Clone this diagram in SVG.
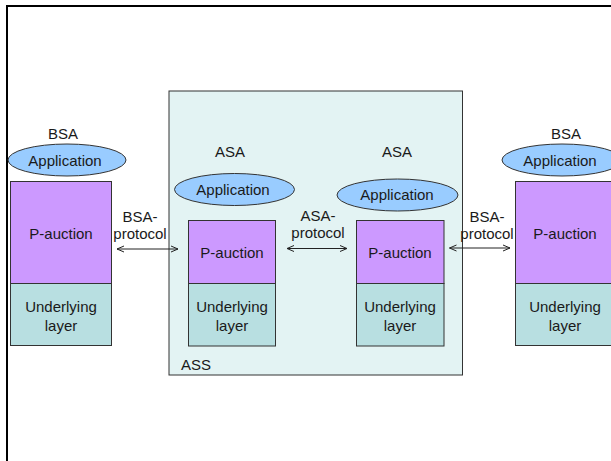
<svg xmlns="http://www.w3.org/2000/svg" width="611" height="461" viewBox="0 0 611 461">
  <defs>
    <marker id="chev" viewBox="0 0 8 8" refX="7.5" refY="4" markerWidth="8" markerHeight="8" markerUnits="userSpaceOnUse" orient="auto-start-reverse">
      <path d="M0.5,1 L7.5,4 L0.5,7" fill="none" stroke="#222" stroke-width="1"/>
    </marker>
  </defs>
  <style>
    text { font-family: "Liberation Sans", Arial, sans-serif; font-size: 15px; fill: #1a1a1a; text-anchor: middle; }
    .lbl { text-anchor: middle; }
    .app { fill: #99CCFF; stroke: #333; stroke-width: 1; }
    .pa { fill: #CC99FF; stroke: #333; stroke-width: 1; }
    .ul { fill: #B8DFE1; stroke: #333; stroke-width: 1; }
    .link { stroke: #222; stroke-width: 1; fill: none; marker-start: url(#chev); marker-end: url(#chev); }
  </style>

  <rect x="0" y="0" width="611" height="461" fill="#ffffff"/>
  <!-- page frame -->
  <rect x="7" y="6" width="700" height="600" fill="none" stroke="#000" stroke-width="2"/>

  <!-- ASS system box -->
  <g id="ass">
    <rect x="169" y="91" width="293.5" height="284" fill="#E3F3F3" stroke="#333" stroke-width="1"/>
    <text x="196" y="370" style="text-anchor:middle">ASS</text>
  </g>

  <!-- left BSA -->
  <g id="bsa-left">
    <text x="63" y="139">BSA</text>
    <ellipse class="app" cx="67" cy="160" rx="59" ry="16"/>
    <text x="65" y="166">Application</text>
    <rect class="pa" x="10.5" y="181.5" width="101" height="102"/>
    <text x="61" y="239">P-auction</text>
    <rect class="ul" x="10.5" y="283.5" width="101" height="62"/>
    <text x="61" y="312">Underlying</text>
    <text x="61" y="331">layer</text>
  </g>

  <!-- ASA 1 -->
  <g id="asa-1">
    <text x="230" y="157">ASA</text>
    <ellipse class="app" cx="234.5" cy="189.5" rx="60" ry="16"/>
    <text x="233" y="195">Application</text>
    <rect class="pa" x="188.5" y="220.5" width="87" height="63"/>
    <text x="232" y="258">P-auction</text>
    <rect class="ul" x="188.5" y="283.5" width="87" height="62.5"/>
    <text x="232" y="312">Underlying</text>
    <text x="232" y="331">layer</text>
  </g>

  <!-- ASA 2 -->
  <g id="asa-2">
    <text x="397" y="157">ASA</text>
    <ellipse class="app" cx="397.5" cy="195" rx="60.5" ry="16"/>
    <text x="397" y="200">Application</text>
    <rect class="pa" x="356.5" y="220.5" width="87.5" height="63"/>
    <text x="400" y="258">P-auction</text>
    <rect class="ul" x="356.5" y="283.5" width="87.5" height="62.5"/>
    <text x="400" y="312">Underlying</text>
    <text x="400" y="331">layer</text>
  </g>

  <!-- right BSA -->
  <g id="bsa-right">
    <text x="566" y="139">BSA</text>
    <ellipse class="app" cx="562" cy="160" rx="60" ry="16"/>
    <text x="560" y="166">Application</text>
    <rect class="pa" x="515.5" y="181.5" width="101" height="102"/>
    <text x="565" y="239">P-auction</text>
    <rect class="ul" x="515.5" y="283.5" width="101" height="62"/>
    <text x="565" y="312">Underlying</text>
    <text x="565" y="331">layer</text>
  </g>

  <!-- protocol connectors -->
  <g id="connectors">
    <line class="link" x1="117" y1="249" x2="178" y2="249"/>
    <line class="link" x1="287" y1="248.5" x2="347" y2="248.5"/>
    <line class="link" x1="449.5" y1="248" x2="510" y2="248"/>
    <text x="140" y="222">BSA-</text>
    <text x="140" y="239">protocol</text>
    <text x="318" y="221">ASA-</text>
    <text x="318" y="238">protocol</text>
    <text x="487" y="222">BSA-</text>
    <text x="487" y="239">protocol</text>
  </g>
</svg>
